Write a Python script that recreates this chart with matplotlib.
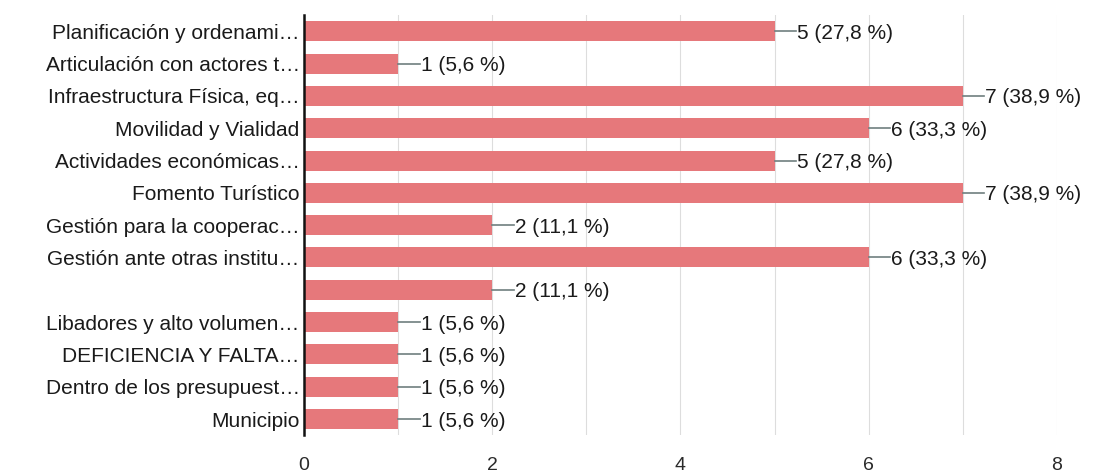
import numpy as np
import matplotlib.pyplot as plt

categorias = [
    'Planificación y ordenami…',
    'Articulación con actores t…',
    'Infraestructura Física, eq…',
    'Movilidad y Vialidad',
    'Actividades económicas…',
    'Fomento Turístico',
    'Gestión para la cooperac…',
    'Gestión ante otras institu…',
    '',
    'Libadores y alto volumen…',
    'DEFICIENCIA Y FALTA…',
    'Dentro de los presupuest…',
    'Municipio',
]
valores = [5, 1, 7, 6, 5, 7, 2, 6, 2, 1, 1, 1, 1]
porcentajes = ['27,8', '5,6', '38,9', '33,3', '27,8', '38,9', '11,1',
               '33,3', '11,1', '5,6', '5,6', '5,6', '5,6']

plt.rcParams['font.family'] = ['Liberation Sans', 'DejaVu Sans']

fig = plt.figure(figsize=(10.97, 4.73), dpi=100)
ax = fig.add_axes([0.277, 0.08, 0.6865, 0.888])

y = np.arange(len(categorias))
ax.barh(y, valores, height=0.62, color='#e6787b', zorder=2)

for yi, v, p in zip(y, valores, porcentajes):
    ax.plot([v, v + 0.23], [yi, yi], color='#6f7f7f', lw=1.2, zorder=3)
    ax.text(v + 0.24, yi, f'{v} ({p} %)', va='center_baseline', ha='left',
            fontsize=15, color='#1a1a1a')

ax.set_ylim(len(categorias) - 0.5, -0.5)
ax.set_xlim(0, 8)
ax.set_yticks(y)
ax.set_yticklabels(categorias, fontsize=15, color='#1a1a1a',
                   va='center_baseline')
ax.set_xticks([0, 2, 4, 6, 8])
ax.set_xticklabels(['0', '2', '4', '6', '8'], fontsize=14, color='#2a2a2a')
ax.set_xticks(np.arange(0, 9, 1), minor=True)
ax.tick_params(axis='both', length=0, pad=3)
ax.tick_params(axis='x', which='minor', length=0)
ax.tick_params(axis='x', pad=16)
ax.grid(axis='x', which='both', color='#dddddd', lw=0.8, zorder=0)

for s in ['top', 'right', 'bottom']:
    ax.spines[s].set_visible(False)
ax.spines['left'].set_color('#111111')
ax.spines['left'].set_linewidth(1.8)
ax.spines['left'].set_zorder(4)

fig.savefig('out.png', dpi=100)
